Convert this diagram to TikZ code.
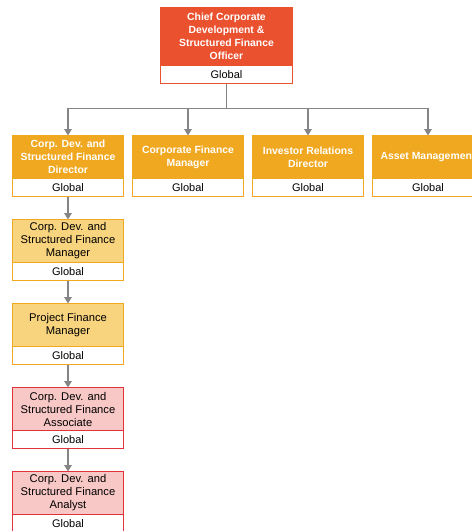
\documentclass[tikz,border=0pt]{standalone}
\usepackage{fontspec}
\setmainfont{Liberation Sans}
\usetikzlibrary{arrows.meta,positioning,calc}
\definecolor{chiefred}{HTML}{E9512F}
\definecolor{amber}{HTML}{F0A820}
\definecolor{softamber}{HTML}{F9D47E}
\definecolor{softpink}{HTML}{F8C8C6}
\definecolor{edgered}{HTML}{E2333B}
\definecolor{linkgray}{HTML}{858585}

\begin{document}
\begin{tikzpicture}[
  x=1pt, y=1pt,
  node distance=23pt and 9pt,
  box/.style={draw, line width=1pt, minimum width=111pt, minimum height=43pt,
    inner sep=0pt, outer sep=0pt, align=center, font=\fontsize{11.2}{13}\selectfont},
  chief/.style={box, fill=chiefred, draw=chiefred, text=white, minimum width=132pt,
    minimum height=58pt, font=\fontsize{10.4}{13}\selectfont\bfseries},
  lead/.style={box, fill=amber, draw=amber, text=white, font=\fontsize{10.4}{13}\selectfont\bfseries},
  soft/.style={box, fill=softamber, draw=amber},
  junior/.style={box, fill=softpink, draw=edgered},
  band/.style={box, fill=white, minimum height=18pt, font=\fontsize{11}{12}\selectfont},
  link/.style={draw=linkgray, line width=1.6pt},
  arr/.style={link, -{Triangle[length=6.5pt, width=7.5pt]}},
]
  \useasboundingbox (0,0) rectangle (472,-531);

  % Head of the unit
  \node[chief, anchor=north] (cco) at (226.5,-7.5)
    {Chief Corporate\\Development \&\\Structured Finance\\Officer};
  \node[band, draw=chiefred, minimum width=132pt, below=0pt of cco] (cco-g) {Global};

  % Direct reports
  \node[lead, anchor=north west] (dir) at (12.5,-135.5)
    {Corp. Dev. and\\Structured Finance\\Director};
  \node[band, draw=amber, below=0pt of dir] (dir-g) {Global};
  \node[lead, right=of dir] (cfm) {Corporate Finance\\Manager};
  \node[band, draw=amber, below=0pt of cfm] (cfm-g) {Global};
  \node[lead, right=of cfm] (ird) {Investor Relations\\Director};
  \node[band, draw=amber, below=0pt of ird] (ird-g) {Global};
  \node[lead, right=of ird] (am) {Asset Management};
  \node[band, draw=amber, below=0pt of am] (am-g) {Global};

  % Director's line
  \node[soft, below=of dir-g] (cdm) {Corp. Dev. and\\Structured Finance\\Manager};
  \node[band, draw=amber, below=0pt of cdm] (cdm-g) {Global};
  \node[soft, below=of cdm-g] (pfm) {Project Finance\\Manager};
  \node[band, draw=amber, below=0pt of pfm] (pfm-g) {Global};
  \node[junior, below=of pfm-g] (asc) {Corp. Dev. and\\Structured Finance\\Associate};
  \node[band, draw=edgered, below=0pt of asc] (asc-g) {Global};
  \node[junior, below=of asc-g] (anl) {Corp. Dev. and\\Structured Finance\\Analyst};
  \node[band, draw=edgered, below=0pt of anl] (anl-g) {Global};

  % Connectors
  \coordinate (hub) at ($(cco-g.south)+(0,-25)$);
  \draw[link] (cco-g.south) -- (hub);
  \foreach \n in {dir,cfm,ird,am}
    \draw[arr] (hub) -| (\n.north);
  \draw[arr] (dir-g) -- (cdm);
  \draw[arr] (cdm-g) -- (pfm);
  \draw[arr] (pfm-g) -- (asc);
  \draw[arr] (asc-g) -- (anl);
\end{tikzpicture}
\end{document}
